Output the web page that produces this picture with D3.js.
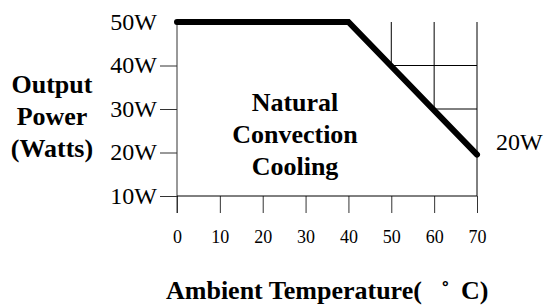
<!DOCTYPE html>
<html>
<head>
<meta charset="utf-8">
<script src="https://cdn.jsdelivr.net/npm/d3@7"></script>
<style>
  body { margin: 0; background: #fff; }
  text { font-family: "Liberation Serif", "Times New Roman", serif; fill: #000; }
</style>
</head>
<body>
<script>
// derating curve
var tempC  = [0, 40, 70];
var powerW = [50, 50, 19.5];
var xTicks = [0, 10, 20, 30, 40, 50, 60, 70];
var yTicks = [10, 20, 30, 40, 50];
var gridX  = [50, 60, 70];
var gridY  = [40, 30];

var width = 544, height = 305;

var svg = d3.select('body').append('svg')
  .attr('width', width)
  .attr('height', height);

var x = d3.scaleLinear().domain([0, 70]).range([177, 477]);
var y = d3.scaleLinear().domain([10, 50]).range([196, 22]);

// value of the curve at a temperature
var curve = d3.scaleLinear().domain(tempC).range(powerW);

// grid above the derating slope
svg.append('g').selectAll('line')
  .data(gridX)
  .enter().append('line')
    .attr('x1', function(d){ return x(d); })
    .attr('x2', function(d){ return x(d); })
    .attr('y1', y(50))
    .attr('y2', function(d){ return d === 70 ? y(10) : y(curve(d)); })
    .style('stroke', '#000')
    .style('stroke-width', 1);

svg.append('g').selectAll('line')
  .data(gridY)
  .enter().append('line')
    .attr('x1', function(d){ return x(curve.invert(d)); })
    .attr('x2', x(70))
    .attr('y1', function(d){ return y(d); })
    .attr('y2', function(d){ return y(d); })
    .style('stroke', '#000')
    .style('stroke-width', 1);

// y axis
var yAxis = svg.append('g')
  .attr('transform', 'translate(' + x(0) + ',0)')
  .call(d3.axisLeft(y).tickValues(yTicks).tickSize(17).tickFormat(function(d){ return d + 'W'; }));
yAxis.select('.domain').remove();
yAxis.selectAll('.tick line').style('stroke', '#333');
yAxis.selectAll('.tick text')
  .attr('x', -20)
  .attr('dy', '0.3em')
  .style('font-family', '"Liberation Serif", serif')
  .style('font-size', '24px');
yAxis.selectAll('.tick').filter(function(d){ return d === 50; }).select('line').remove();

svg.append('line')
  .attr('x1', x(0)).attr('x2', x(0))
  .attr('y1', y(50)).attr('y2', 213)
  .style('stroke', '#333');

// x axis
var xAxis = svg.append('g')
  .attr('transform', 'translate(0,' + y(10) + ')')
  .call(d3.axisBottom(x).tickValues(xTicks).tickSize(17).tickSizeOuter(0));
xAxis.select('.domain').remove();
xAxis.selectAll('.tick line').style('stroke', '#333');
xAxis.selectAll('.tick text')
  .attr('y', 47)
  .attr('dy', 0)
  .style('font-family', '"Liberation Serif", serif')
  .style('font-size', '18px');

svg.append('line')
  .attr('x1', x(0)).attr('x2', x(70))
  .attr('y1', y(10)).attr('y2', y(10))
  .style('stroke', '#000');

// derating line
var line = d3.line()
  .x(function(d){ return x(d[0]); })
  .y(function(d){ return y(d[1]); });

svg.append('path')
  .datum(d3.zip(tempC, powerW))
  .attr('d', line)
  .style('fill', 'none')
  .style('stroke', '#000')
  .style('stroke-width', 6)
  .style('stroke-linejoin', 'miter')
  .style('stroke-linecap', 'round');

// labels
svg.append('text')
  .attr('x', 496).attr('y', 150)
  .style('font-size', '24px')
  .text('20W');

var yLabel = svg.append('text')
  .attr('text-anchor', 'middle')
  .style('font-weight', 'bold')
  .style('font-size', '26px');
['Output', 'Power', '(Watts)'].forEach(function(t, i){
  yLabel.append('tspan').attr('x', 52).attr('y', 93 + i * 32).text(t);
});

var inner = svg.append('text')
  .attr('text-anchor', 'middle')
  .style('font-weight', 'bold')
  .style('font-size', '26px');
['Natural', 'Convection', 'Cooling'].forEach(function(t, i){
  inner.append('tspan').attr('x', 295).attr('y', 111 + i * 32).text(t);
});

var xLabel = svg.append('text')
  .attr('y', 299)
  .style('font-weight', 'bold')
  .style('font-size', '26px');
xLabel.append('tspan').attr('x', 166).text('Ambient Temperature(');
xLabel.append('tspan').attr('x', 441).text('\u02DA');
xLabel.append('tspan').attr('x', 461).text('C)');
</script>
</body>
</html>
